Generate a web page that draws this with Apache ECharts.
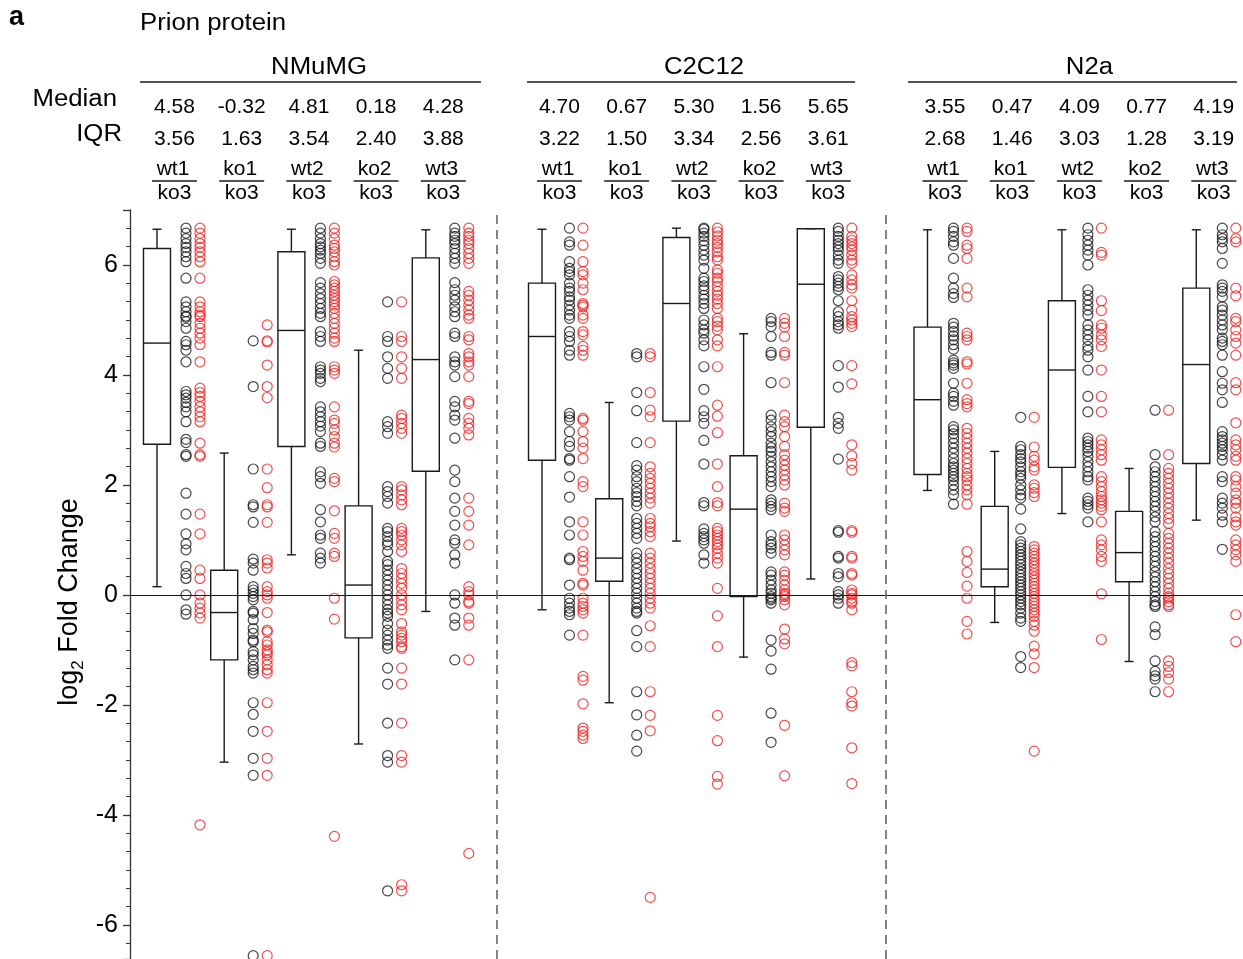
<!DOCTYPE html>
<html><head><meta charset="utf-8">
<script src="https://cdn.jsdelivr.net/npm/echarts@6/dist/echarts.min.js"></script>
<style>html,body{margin:0;padding:0;background:#fff}#c{width:1243px;height:959px}</style>
</head><body><div id="c"></div>
<script>
// ---------------- data ----------------
const panels = ['NMuMG', 'C2C12', 'N2a'];
const groups = ['wt1', 'ko1', 'wt2', 'ko2', 'wt3'];
const denominator = 'ko3';
const yTicks = [-6, -4, -2, 0, 2, 4, 6];

const medianLabels = [
  [4.58, -0.32, 4.81, 0.18, 4.28],
  [4.70, 0.67, 5.30, 1.56, 5.65],
  [3.55, 0.47, 4.09, 0.77, 4.19]
];
const iqrLabels = [
  [3.56, 1.63, 3.54, 2.40, 3.88],
  [3.22, 1.50, 3.34, 2.56, 3.61],
  [2.68, 1.46, 3.03, 1.28, 3.19]
];

// box stats: [lower whisker, Q1, median, Q3, upper whisker]
const boxNMuMG = [
  [0.15, 2.74, 4.58, 6.30, 6.65],
  [-3.04, -1.18, -0.32, 0.45, 2.58],
  [0.73, 2.70, 4.81, 6.24, 6.65],
  [-2.71, -0.78, 0.18, 1.62, 4.45],
  [-0.30, 2.25, 4.28, 6.13, 6.64]
];
const boxC2C12 = [
  [-0.27, 2.45, 4.70, 5.67, 6.65],
  [-1.96, 0.25, 0.67, 1.75, 3.50],
  [0.98, 3.16, 5.30, 6.50, 6.67],
  [-1.13, -0.03, 1.56, 2.53, 4.75],
  [0.29, 3.05, 5.65, 6.66, 6.66]
];
const boxN2a = [
  [1.90, 2.19, 3.55, 4.87, 6.64],
  [-0.50, 0.15, 0.47, 1.61, 2.61],
  [1.48, 2.32, 4.09, 5.35, 6.64],
  [-1.21, 0.24, 0.77, 1.52, 2.30],
  [1.36, 2.39, 4.19, 5.58, 6.64]
];

// individual values (black circles / red circles), per group wt1, ko1, wt2, ko2, wt3
const blackNMuMG = [
  [6.67,6.58,6.48,6.39,6.32,6.24,6.15,6.06,5.76,5.33,5.24,5.15,5.07,5.05,4.97,4.85,4.61,4.55,4.45,4.24,3.70,3.64,3.58,3.50,3.42,3.33,3.15,2.83,2.77,2.55,2.52,1.85,1.47,1.11,0.93,0.82,0.52,0.39,0.30,0.0,-0.27,-0.35],
  [4.62,3.79,2.29,1.64,1.60,1.32,0.65,0.58,0.45,0.15,0.09,0.03,-0.03,-0.09,-0.30,-0.33,-0.45,-0.61,-0.70,-0.82,-0.85,-1.03,-1.09,-1.18,-1.30,-1.36,-1.42,-1.96,-2.17,-2.48,-2.97,-3.28,-6.56],
  [6.67,6.58,6.48,6.39,6.33,6.27,6.21,6.12,6.03,5.68,5.58,5.48,5.39,5.30,5.21,5.12,5.06,4.79,4.70,4.61,4.15,4.09,4.03,3.94,3.88,3.42,3.33,3.24,3.15,3.07,2.97,2.76,2.70,2.24,2.15,2.03,1.55,1.33,1.09,1.03,0.76,0.67,0.58],
  [5.33,4.70,4.61,4.33,4.12,3.94,3.15,3.06,2.94,1.97,1.88,1.79,1.67,1.21,1.15,1.06,0.97,0.91,0.79,0.61,0.55,0.45,0.36,0.27,0.18,0.09,0.0,-0.09,-0.18,-0.27,-0.33,-0.39,-0.52,-0.64,-0.73,-0.82,-0.91,-0.97,-1.33,-1.62,-2.33,-2.92,-3.04,-5.38],
  [6.67,6.58,6.52,6.45,6.39,6.30,6.21,6.12,6.03,5.68,5.55,5.45,5.36,5.24,5.15,5.06,4.76,4.70,4.33,4.24,4.18,3.97,3.52,3.42,3.27,3.18,2.85,2.27,2.06,1.76,1.52,1.27,1.0,0.94,0.73,0.58,0.0,-0.15,-0.42,-0.55,-1.18]
];
const redNMuMG = [
  [6.67,6.58,6.48,6.39,6.32,6.24,6.15,6.06,5.76,5.33,5.24,5.15,5.09,5.06,4.94,4.85,4.76,4.67,4.55,4.24,3.76,3.68,3.61,3.52,3.42,3.33,3.24,3.15,2.76,2.55,2.52,1.47,1.11,0.45,0.30,0.0,-0.15,-0.24,-0.33,-0.42,-4.18],
  [4.91,4.62,4.60,4.18,3.79,3.59,2.29,1.95,1.64,1.60,1.32,0.64,0.58,0.49,0.15,0.06,0.0,-0.06,-0.32,-0.64,-0.67,-0.85,-0.91,-1.0,-1.05,-1.09,-1.18,-1.27,-1.36,-1.42,-1.96,-2.48,-2.97,-3.28,-6.56],
  [6.67,6.58,6.48,6.36,6.30,6.24,6.15,6.06,6.00,5.70,5.64,5.58,5.52,5.45,5.39,5.33,5.27,5.21,5.12,5.03,4.94,4.85,4.76,4.67,4.61,4.15,4.09,4.03,3.42,3.18,3.12,3.0,2.88,2.76,2.69,2.12,2.06,1.53,1.12,1.03,0.76,0.70,-0.06,-0.44,-4.39],
  [5.33,4.70,4.61,4.33,4.12,3.94,3.27,3.21,3.12,3.03,2.94,1.97,1.91,1.82,1.73,1.64,1.21,1.15,1.09,1.0,0.91,0.79,0.48,0.39,0.30,0.21,0.12,0.0,-0.09,-0.18,-0.27,-0.52,-0.67,-0.73,-0.79,-0.85,-0.94,-0.97,-1.33,-1.62,-2.33,-2.92,-3.04,-5.27,-5.38],
  [6.67,6.58,6.52,6.45,6.39,6.30,6.21,6.12,6.03,5.52,5.45,5.36,5.27,5.18,5.09,5.03,4.70,4.64,4.39,4.33,4.24,4.18,3.97,3.52,3.48,3.21,3.12,3.03,2.91,1.76,1.52,1.27,0.91,0.15,0.06,0.0,-0.12,-0.15,-0.42,-0.55,-1.18,-4.70]
];
const blackC2C12 = [
  [6.67,6.42,6.36,6.06,5.94,5.88,5.82,5.67,5.58,5.52,5.42,5.36,5.27,5.18,5.09,5.03,4.79,4.70,4.61,4.45,4.36,3.30,3.24,3.18,2.97,2.79,2.70,2.48,2.45,2.15,1.78,1.33,1.09,0.67,0.64,0.18,-0.06,-0.15,-0.24,-0.30,-0.36,-0.73],
  [4.39,4.33,3.68,3.35,2.77,2.35,2.27,2.15,2.06,1.94,1.86,1.79,1.70,1.62,1.39,1.30,1.21,1.12,1.03,0.76,0.67,0.58,0.48,0.39,0.30,0.21,0.12,0.03,-0.06,-0.15,-0.24,-0.30,-0.33,-0.65,-0.94,-1.76,-2.18,-2.55,-2.84],
  [6.67,6.65,6.58,6.52,6.44,6.36,6.27,6.18,6.09,5.94,5.76,5.70,5.62,5.55,5.45,5.38,5.30,5.21,5.0,4.91,4.82,4.76,4.64,4.53,4.15,3.74,3.35,3.24,3.12,2.81,2.38,1.68,1.62,1.20,1.12,1.06,1.0,0.94,0.73,0.58],
  [5.03,4.97,4.88,4.70,4.41,4.36,3.86,3.27,3.18,3.06,2.97,2.88,2.76,2.68,2.61,2.52,2.42,2.33,2.24,2.15,2.06,1.97,1.73,1.67,1.61,1.55,1.09,0.97,0.91,0.85,0.76,0.42,0.36,0.27,0.18,0.09,0.03,-0.03,-0.06,-0.09,-0.15,-0.82,-1.02,-1.35,-2.15,-2.68],
  [6.67,6.61,6.52,6.45,6.39,6.33,6.27,6.18,6.09,6.03,5.79,5.73,5.67,5.61,5.55,5.35,5.15,5.06,4.97,4.91,4.85,4.17,3.78,3.23,3.12,3.03,2.47,1.17,1.14,0.70,0.67,0.39,0.33,0.06,0.0,-0.06,-0.15]
];
const redC2C12 = [
  [6.67,6.36,6.06,5.88,5.82,5.67,5.55,5.30,5.27,5.24,5.09,5.03,4.79,4.73,4.52,4.45,4.36,3.21,3.18,2.97,2.79,2.67,2.48,2.06,1.97,1.33,1.09,0.79,0.70,0.61,0.45,0.21,0.18,-0.06,-0.15,-0.21,-0.27,-0.33,-0.73,-1.48,-1.55,-1.98,-2.42,-2.48,-2.55,-2.61],
  [4.39,4.33,3.68,3.36,3.24,2.77,2.33,2.21,2.12,2.03,1.94,1.85,1.76,1.67,1.39,1.30,1.24,1.15,1.06,0.76,0.67,0.58,0.48,0.39,0.30,0.21,0.12,0.03,-0.06,-0.15,-0.24,-0.56,-0.94,-1.76,-2.19,-2.47,-5.50],
  [6.67,6.60,6.53,6.45,6.39,6.32,6.24,6.15,6.09,5.91,5.85,5.76,5.70,5.61,5.52,5.45,5.38,5.30,5.21,5.03,4.97,4.89,4.82,4.64,4.53,4.15,3.45,3.25,2.95,2.38,1.97,1.68,1.62,1.21,1.15,1.09,1.03,0.97,0.91,0.85,0.76,0.67,0.58,0.12,-0.38,-0.94,-2.19,-2.65,-3.30,-3.44],
  [5.03,4.94,4.87,4.70,4.41,4.36,3.86,3.27,3.15,3.06,2.88,2.70,2.55,2.45,2.36,2.27,2.18,2.09,2.0,1.67,1.58,1.52,1.09,1.0,0.91,0.82,0.73,0.42,0.36,0.27,0.18,0.09,0.03,0.0,-0.03,-0.09,-0.18,-0.62,-0.80,-0.89,-2.37,-3.29],
  [6.67,6.52,6.45,6.39,6.33,6.27,6.18,6.09,6.03,5.82,5.73,5.64,5.58,5.35,5.18,5.06,5.0,4.94,4.88,4.17,3.84,2.73,2.53,2.39,2.27,1.17,1.14,0.70,0.67,0.39,0.36,0.09,0.03,0.0,-0.06,-0.12,-0.15,-0.27,-1.23,-1.29,-1.76,-1.96,-2.02,-2.78,-3.43]
];
const blackN2a = [
  [6.67,6.61,6.52,6.42,6.36,6.12,5.76,5.58,5.48,5.41,4.94,4.87,4.79,4.71,4.64,4.55,4.47,4.27,4.22,4.18,4.12,3.85,3.67,3.61,3.52,3.45,3.06,3.0,2.93,2.85,2.76,2.67,2.58,2.48,2.39,2.33,2.27,2.21,2.15,2.09,2.0,1.91,1.82,1.65],
  [3.23,2.70,2.64,2.55,2.48,2.42,2.33,2.24,2.18,2.12,2.0,1.91,1.82,1.76,1.56,1.20,0.97,0.91,0.85,0.79,0.73,0.67,0.61,0.55,0.48,0.42,0.36,0.30,0.24,0.18,0.12,0.06,0.0,-0.06,-0.12,-0.18,-0.24,-0.33,-0.42,-0.48,-1.12,-1.32],
  [6.67,6.55,6.45,6.36,6.27,6.18,6.0,5.55,5.45,5.36,5.27,5.18,5.09,4.91,4.82,4.73,4.64,4.52,4.45,4.33,4.09,3.61,3.33,2.85,2.79,2.73,2.67,2.61,2.52,2.42,2.33,2.24,2.15,2.09,1.76,1.70,1.64,1.58,1.33],
  [3.36,2.55,2.33,2.24,2.15,2.06,1.97,1.88,1.79,1.70,1.61,1.52,1.42,1.33,1.15,1.06,0.97,0.88,0.79,0.70,0.61,0.52,0.42,0.33,0.24,0.15,0.06,-0.03,-0.12,-0.18,-0.21,-0.58,-0.72,-1.20,-1.39,-1.47,-1.53,-1.76],
  [6.67,6.55,6.48,6.42,6.30,6.03,5.64,5.58,5.52,5.42,5.24,5.18,5.09,5.0,4.91,4.82,4.67,4.61,4.55,4.36,4.06,3.85,3.73,3.50,2.97,2.88,2.82,2.76,2.70,2.64,2.55,2.45,2.15,2.06,1.76,1.67,1.58,1.45,1.33,0.83]
];
const redN2a = [
  [6.67,6.61,6.36,6.30,6.12,5.58,5.42,4.76,4.70,4.64,4.24,4.20,3.85,3.55,3.48,3.42,3.03,2.94,2.85,2.76,2.67,2.58,2.48,2.39,2.30,2.21,2.15,2.09,2.0,1.91,1.82,1.65,0.79,0.61,0.41,0.16,-0.06,-0.48,-0.71],
  [3.23,2.69,2.52,2.45,2.33,2.27,2.0,1.94,1.86,1.79,0.88,0.82,0.76,0.70,0.64,0.58,0.52,0.45,0.39,0.33,0.27,0.21,0.15,0.09,0.03,-0.03,-0.09,-0.15,-0.21,-0.27,-0.33,-0.39,-0.48,-0.55,-0.66,-0.93,-1.07,-1.32,-2.84],
  [6.67,6.23,6.18,5.35,5.17,4.91,4.85,4.73,4.64,4.52,4.09,3.61,3.33,2.82,2.73,2.64,2.55,2.45,2.15,2.06,1.97,1.88,1.79,1.73,1.67,1.61,1.55,1.33,1.0,0.91,0.82,0.70,0.61,0.02,-0.81],
  [3.36,2.55,2.30,2.21,2.12,2.03,1.94,1.85,1.76,1.67,1.58,1.48,1.39,1.30,1.12,1.03,0.94,0.85,0.76,0.67,0.58,0.48,0.39,0.30,0.21,0.12,0.03,-0.03,-0.06,-0.12,-0.18,-0.21,-1.20,-1.30,-1.41,-1.53,-1.76],
  [6.67,6.48,6.42,5.58,5.44,5.03,4.97,4.82,4.70,4.58,4.36,3.86,3.73,3.13,2.82,2.73,2.64,2.52,2.45,2.15,2.09,1.97,1.85,1.73,1.67,1.58,1.42,1.33,1.27,1.0,0.91,0.82,0.73,0.61,-0.36,-0.85]
];

const boxes = [boxNMuMG, boxC2C12, boxN2a];
const blacks = [blackNMuMG, blackC2C12, blackN2a];
const reds = [redNMuMG, redC2C12, redN2a];

// ---------------- layout (x axis units = pixels from plot left) ----------------
const PLOT_W = 1113;
const PANEL_START = [27, 412, 797.5];
const GROUP_STEP = 67.2;
const DOT_OFFSET = [[29, 43], [27.5, 41], [26, 39.5]];
const SEPARATORS = [367, 756];
const BOX_W = 27, CAP_W = 9;
const FONT = '"Liberation Sans", Arial, Helvetica, sans-serif';
const RED = '#ec2525', INK = '#1a1a1a';

const boxData = [], blackData = [], redData = [];
panels.forEach((p, pi) => {
  groups.forEach((g, gi) => {
    const cx = PANEL_START[pi] + gi * GROUP_STEP;
    boxData.push([cx].concat(boxes[pi][gi]));
    blacks[pi][gi].forEach(v => blackData.push([cx + DOT_OFFSET[pi][0], v]));
    reds[pi][gi].forEach(v => redData.push([cx + DOT_OFFSET[pi][1], v]));
  });
});

const chart = echarts.init(document.getElementById('c'), null, {renderer: 'canvas'});
const boxStyle = {stroke: INK, lineWidth: 1.4, fill: 'transparent'};

chart.setOption({
  animation: false,
  backgroundColor: '#fff',
  grid: {left: 130, right: 0, top: 210, bottom: 0},
  xAxis: {type: 'value', min: 0, max: PLOT_W, show: false},
  yAxis: {
    type: 'value', min: -6.62, max: 7, splitNumber: 7,
    axisLine: {show: true, lineStyle: {color: '#333', width: 1.3}},
    axisTick: {show: true, inside: false, length: 7, lineStyle: {color: '#333', width: 1.3}},
    minorTick: {show: true, splitNumber: 6, length: 4, lineStyle: {color: '#333', width: 1}},
    splitLine: {show: false},
    axisLabel: {
      color: '#000', fontSize: 25, fontFamily: FONT, margin: 12,
      showMinLabel: false, showMaxLabel: false,
      formatter: v => (yTicks.some(t => Math.abs(t - v) < 1e-6) ? String(Math.round(v)) : '')
    }
  },
  series: [
    {
      type: 'custom', silent: true, z: 3,
      encode: {x: 0, y: [1, 2, 3, 4, 5]},
      data: boxData,
      renderItem: function (params, api) {
        const x = api.value(0);
        const lo = api.coord([x, api.value(1)]);
        const q1 = api.coord([x, api.value(2)]);
        const md = api.coord([x, api.value(3)]);
        const q3 = api.coord([x, api.value(4)]);
        const hi = api.coord([x, api.value(5)]);
        const half = api.size([BOX_W, 0])[0] / 2;
        const cap = api.size([CAP_W, 0])[0] / 2;
        const cx = lo[0];
        const L = (x1, y1, x2, y2) => ({type: 'line', shape: {x1, y1, x2, y2}, style: boxStyle});
        return {type: 'group', children: [
          L(cx, q3[1], cx, hi[1]), L(cx - cap, hi[1], cx + cap, hi[1]),
          L(cx, q1[1], cx, lo[1]), L(cx - cap, lo[1], cx + cap, lo[1]),
          {type: 'rect', shape: {x: cx - half, y: q3[1], width: 2 * half, height: q1[1] - q3[1]}, style: boxStyle},
          L(cx - half, md[1], cx + half, md[1])
        ]};
      }
    },
    {
      type: 'scatter', name: 'black', silent: true, z: 4,
      symbol: 'circle', symbolSize: 10,
      itemStyle: {color: 'transparent', borderColor: INK, borderWidth: 1.2},
      data: blackData,
      markLine: {
        silent: true, symbol: 'none', label: {show: false},
        lineStyle: {color: INK, width: 1.2, type: 'solid'},
        data: [{yAxis: 0}]
      }
    },
    {
      type: 'scatter', name: 'red', silent: true, z: 4,
      symbol: 'circle', symbolSize: 10,
      itemStyle: {color: 'transparent', borderColor: RED, borderWidth: 1.2},
      data: redData,
      markLine: {
        silent: true, symbol: 'none', label: {show: false},
        lineStyle: {color: '#666', width: 1.6, type: [9, 6]},
        data: SEPARATORS.map(s => ({xAxis: s}))
      }
    }
  ]
});

// ---------------- header texts ----------------
const px = v => chart.convertToPixel({xAxisIndex: 0}, v);
const T = (x, y, text, size, align, sx, extra) => ({
  type: 'text', x, y, scaleX: sx || 1, silent: true, z: 10,
  style: Object.assign({text, fontSize: size, fontFamily: FONT, fill: '#000', align, verticalAlign: 'middle'}, extra || {})
});
const Ln = (x1, y1, x2, y2) => ({type: 'line', silent: true, z: 10, shape: {x1, y1, x2, y2}, style: {stroke: INK, lineWidth: 1.5}});
const UNDERLINE = [[140, 481], [527, 855], [908, 1237]];
const WORD_STRETCH = 1.12;

const gfx = [];
gfx.push(T(9, 18, 'a', 27, 'left', 1, {fontWeight: 'bold'}));
gfx.push(T(140, 24, 'Prion protein', 23, 'left', WORD_STRETCH));
gfx.push(T(117, 100, 'Median', 23, 'right', WORD_STRETCH));
gfx.push(T(122, 135, 'IQR', 23, 'right', WORD_STRETCH));
gfx.push({
  type: 'text', x: 70, y: 602, rotation: Math.PI / 2, silent: true, z: 10,
  style: {
    text: 'log{sub|2} Fold Change', fontSize: 27, fontFamily: FONT, fill: '#000',
    align: 'center', verticalAlign: 'middle', lineHeight: 34,
    rich: {sub: {fontSize: 17, fontFamily: FONT, lineHeight: 17, verticalAlign: 'bottom'}}
  }
});
panels.forEach((p, pi) => {
  gfx.push(T(px(PANEL_START[pi] + 162), 68, p, 23, 'center', WORD_STRETCH));
  gfx.push(Ln(UNDERLINE[pi][0], 82, UNDERLINE[pi][1], 82));
  groups.forEach((g, gi) => {
    const cx = px(PANEL_START[pi] + gi * GROUP_STEP + 17.5);
    gfx.push(T(cx, 107, medianLabels[pi][gi].toFixed(2), 21, 'center'));
    gfx.push(T(cx, 139, iqrLabels[pi][gi].toFixed(2), 21, 'center'));
    gfx.push(T(cx - 1.5, 169, g, 21, 'center'));
    gfx.push(Ln(cx - 22.5, 181, cx + 22.5, 181));
    gfx.push(T(cx, 193, denominator, 21, 'center'));
  });
});
chart.setOption({graphic: gfx});
</script>
</body></html>
